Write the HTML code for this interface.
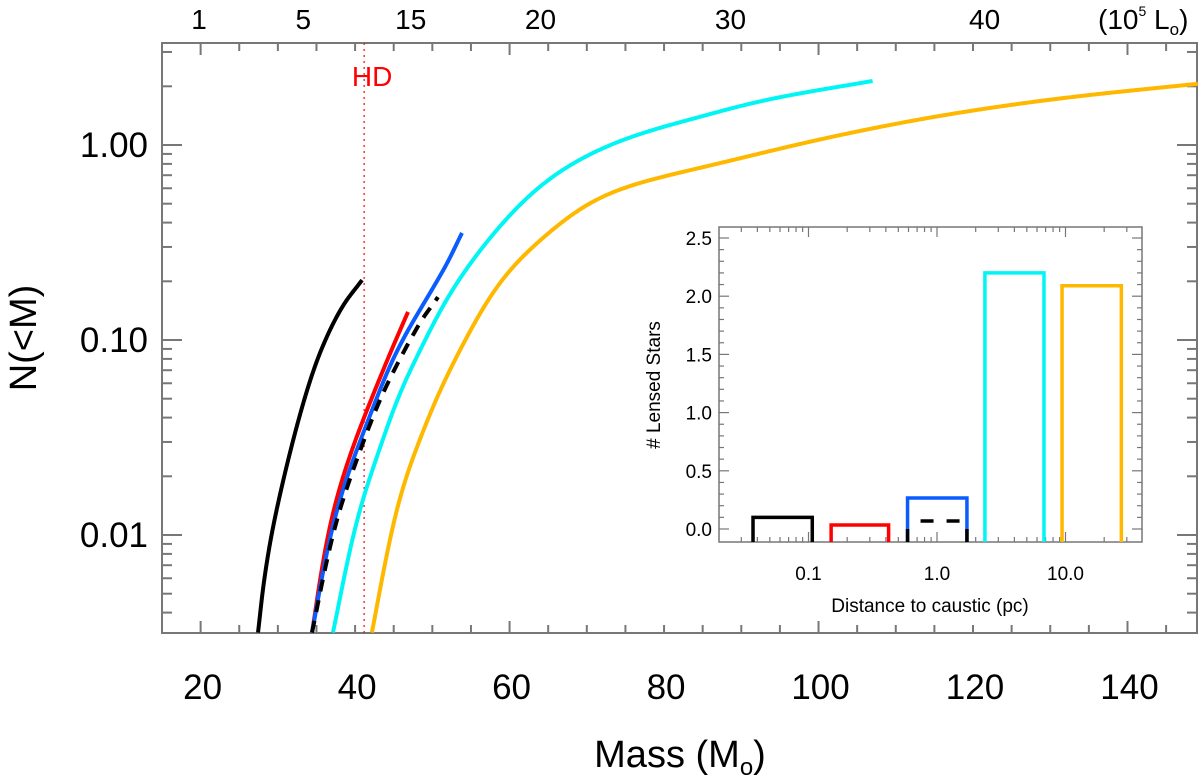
<!DOCTYPE html>
<html><head><meta charset="utf-8"><style>
body{margin:0;background:#fff}
svg{display:block;font-family:"Liberation Sans",Arial,sans-serif}
</style></head><body>
<svg id="chart" width="1200" height="783" viewBox="0 0 1200 783" xmlns="http://www.w3.org/2000/svg">
<g id="main"></g>
<g id="inset"></g>
</svg>
<script>
// ---- main chart data ----
const blackMass=[27.43,28.60,29.89,31.96,34.55,37.14,40.9];
const blackN=[0.00316,0.00771,0.0139,0.0307,0.0702,0.1267,0.203];
const redMass=[34.42,36.75,39.98,41.02,43.61,46.85];
const redN=[0.00316,0.01153,0.0307,0.0389,0.0702,0.1393];
const blueMass=[34.42,37.14,40.64,41.93,44.13,47.11,50.6,53.84];
const blueN=[0.00316,0.01153,0.0307,0.0403,0.0702,0.1194,0.196,0.354];
const dashMass=[34.42,37.66,41.03,43.61,45.81,46.72,50.73];
const dashN=[0.00316,0.0124,0.0296,0.0554,0.0789,0.0966,0.166];
const cyanMass=[37.13,40.63,43.61,45.81,48.02,51.64,54.49,57.47,61.74,64.6,70.41,76.89,84.65,91.64,107.0];
const cyanN=[0.00316,0.0139,0.0307,0.0554,0.0818,0.160,0.237,0.337,0.522,0.66,0.910,1.152,1.39,1.66,2.13];
const orangeMass=[42.17,45.42,47.11,48.4,50.34,53.58,56.56,60.06,65.24,70.41,76.89,84.65,101.6,116.5,131.5,149.1];
const orangeN=[0.00316,0.0139,0.0234,0.0307,0.0492,0.0889,0.1477,0.237,0.358,0.522,0.646,0.762,1.10,1.43,1.74,2.06];
const hdMass=41.17;
const xTickLabels=[20,40,60,80,100,120,140];
const yTickLabels=["0.01","0.10","1.00"];
const yTickVals=[0.01,0.1,1];
const topLabels=["1","5","15","20","30","40"];
const topLabelMass=[19.8,33.3,47.2,64.0,88.6,121.5];
// ---- inset data ----
const binLo=[0.037,0.15,0.59,2.36,9.4];
const binHi=[0.107,0.42,1.71,6.8,27.2];
const binVal=[0.10,0.034,0.266,2.2,2.09];
const binColors=["#000","#f00","#0a5cff","#00f5f5","#ffb800"];
const dashVal=0.069;
const insetYTicks=["0.0","0.5","1.0","1.5","2.0","2.5"];
const insetXTicks=["0.1","1.0","10.0"];

const NS="http://www.w3.org/2000/svg";
function mk(parent,tag,attrs,text){const e=document.createElementNS(NS,tag);for(const k in attrs)e.setAttribute(k,attrs[k]);if(text!==undefined)e.textContent=text;parent.appendChild(e);return e;}
const main=document.getElementById('main'), inset=document.getElementById('inset');
const L=162,R=1197,T=43,B=633;
const xM=m=>L+(m-15)*(R-L)/134;
const yN=n=>145-195*Math.log10(n);
let f=mk(main,'rect',{x:L,y:T,width:R-L,height:B-T,fill:'none',stroke:'#777','stroke-width':2});


for(let m=20;m<=145;m+=5){const x=xM(m);const len=((m-20)%40===0)?12:8;
 mk(main,'line',{x1:x,y1:B,x2:x,y2:B-len,stroke:'#777','stroke-width':2});
 mk(main,'line',{x1:x,y1:T,x2:x,y2:T+len,stroke:'#777','stroke-width':2});}
xTickLabels.forEach(v=>{const t=mk(main,'text',{x:xM(v)+2,y:699,'font-size':35,'text-anchor':'middle'},String(v));
 
 });
for(let d=-3;d<=0;d++){for(let k=1;k<=9;k++){const v=k*Math.pow(10,d);if(v<0.00316||v>3.3)continue;const y=yN(v);const len=k===1?20:10;
 mk(main,'line',{x1:L,y1:y,x2:L+len,y2:y,stroke:'#777','stroke-width':2});
 mk(main,'line',{x1:R,y1:y,x2:R-len,y2:y,stroke:'#777','stroke-width':2});}}
yTickVals.forEach((v,i)=>{const t=mk(main,'text',{x:148,y:yN(v)+12,'font-size':35,'text-anchor':'end'},yTickLabels[i]);
 
 });
topLabels.forEach((s,i)=>{const t=mk(main,'text',{x:xM(topLabelMass[i]),y:29,'font-size':28,'text-anchor':'middle'},s);
 
 });
let tu=mk(main,'text',{x:1098,y:29,'font-size':28});
tu.innerHTML='(10<tspan font-size="14" dy="-13">5</tspan><tspan dy="13"> L</tspan><tspan font-size="17" dy="6">o</tspan><tspan dy="-6">)</tspan>';


let xt=mk(main,'text',{x:680,y:767,'font-size':38,'text-anchor':'middle'});
xt.innerHTML='Mass (M<tspan font-size="24" dy="8">o</tspan><tspan dy="-8">)</tspan>';


let yt=mk(main,'text',{x:0,y:0,'font-size':38,'text-anchor':'middle',transform:'translate(36,338) rotate(-90)'},'N(<M)');


let hd=mk(main,'line',{x1:xM(hdMass),y1:T,x2:xM(hdMass),y2:B,stroke:'#f00','stroke-width':1.2,'stroke-dasharray':'2,4'});


let hdt=mk(main,'text',{x:xM(hdMass)+8,y:86,'font-size':28,fill:'#f00','text-anchor':'middle'},'HD');


function monotone(xs,ys){const n=xs.length,d=[],m=new Array(n);
 for(let i=0;i<n-1;i++)d.push((ys[i+1]-ys[i])/(xs[i+1]-xs[i]));
 m[0]=d[0];m[n-1]=d[n-2];
 for(let i=1;i<n-1;i++){if(d[i-1]*d[i]<=0)m[i]=0;else{const w1=2*(xs[i+1]-xs[i])+(xs[i]-xs[i-1]),w2=(xs[i+1]-xs[i])+2*(xs[i]-xs[i-1]);m[i]=(w1+w2)/(w1/d[i-1]+w2/d[i]);}}
 return t=>{let i=0;while(i<n-2&&t>xs[i+1])i++;const h=xs[i+1]-xs[i],s=(t-xs[i])/h;
  const h00=2*s*s*s-3*s*s+1,h10=s*s*s-2*s*s+s,h01=-2*s*s*s+3*s*s,h11=s*s*s-s*s;
  return h00*ys[i]+h10*h*m[i]+h01*ys[i+1]+h11*h*m[i+1];};}
function curve(ms,ns,color,name,dash){
 const lg=ns.map(v=>Math.log10(v));
 const fn=monotone(lg,ms);
 const raw=[];const S=600;
 for(let k=0;k<=S;k++){const t=lg[0]+(lg[lg.length-1]-lg[0])*k/S;raw.push([xM(fn(t)),145-195*t]);}
 const cum=[0];for(let i=1;i<raw.length;i++)cum.push(cum[i-1]+Math.hypot(raw[i][0]-raw[i-1][0],raw[i][1]-raw[i-1][1]));
 const total=cum[cum.length-1];const pts=[];let j=0;
 for(let s=0;s<=total;s+=1){while(j<cum.length-2&&cum[j+1]<s)j++;const u=(s-cum[j])/((cum[j+1]-cum[j])||1);
  pts.push([raw[j][0]+(raw[j+1][0]-raw[j][0])*u,raw[j][1]+(raw[j+1][1]-raw[j][1])*u]);}
 pts.push(raw[raw.length-1]);
 const sig=30,n=pts.length,sm=[];
 for(let i=0;i<n;i++){const w=Math.min(Math.round(sig*2.5),i,n-1-i);let sx=0,sy=0,sw=0;
  for(let k=-w;k<=w;k++){const g=Math.exp(-k*k/(2*sig*sig));sx+=g*pts[i+k][0];sy+=g*pts[i+k][1];sw+=g;}
  sm.push([sx/sw,sy/sw]);}
 let d='';sm.forEach((p,i)=>{if(i%2===0||i===n-1)d+=(i?' L':'M')+p[0].toFixed(2)+','+p[1].toFixed(2);});
 const a={d:d,fill:'none',stroke:color,'stroke-width':4,'stroke-linejoin':'round'};if(dash)a['stroke-dasharray']=dash;
 const p=mk(main,'path',a);
 
 }
curve(orangeMass,orangeN,'#ffb800','orange-curve');
curve(cyanMass,cyanN,'#00f5f5','cyan-curve');
curve(redMass,redN,'#f00','red-curve');
curve(blueMass,blueN,'#0a5cff','blue-curve');
curve(dashMass,dashN,'#000','dashed-black-curve','12,9');
curve(blackMass,blackN,'#000','black-curve');

// ---- inset ----
const iL=719,iR=1142,iT=227,iB=542;
const xD=v=>937+128.5*Math.log10(v);
const yV=v=>529-116.4*v;
let bg=mk(inset,'rect',{x:iL,y:iT,width:iR-iL,height:iB-iT,fill:'#fff',stroke:'#777','stroke-width':1.5});


for(let k=0;k<=25;k++){const y=yV(k/10);if(y<iT)continue;const len=k%5===0?10:5;
 mk(inset,'line',{x1:iL,y1:y,x2:iL+len,y2:y,stroke:'#777','stroke-width':1.2});
 mk(inset,'line',{x1:iR,y1:y,x2:iR-len,y2:y,stroke:'#777','stroke-width':1.2});}
insetYTicks.forEach((s,i)=>{const t=mk(inset,'text',{x:712,y:yV(i*0.5)+7,'font-size':19,'text-anchor':'end'},s);
 
 });
for(let d=-2;d<=1;d++){for(let k=1;k<=9;k++){const v=k*Math.pow(10,d);const x=xD(v);if(x<iL||x>iR)continue;const len=k===1?10:5;
 mk(inset,'line',{x1:x,y1:iB,x2:x,y2:iB-len,stroke:'#777','stroke-width':1.2});
 mk(inset,'line',{x1:x,y1:iT,x2:x,y2:iT+len,stroke:'#777','stroke-width':1.2});}}
insetXTicks.forEach((s,i)=>{const t=mk(inset,'text',{x:xD(Math.pow(10,i-1)),y:580,'font-size':19,'text-anchor':'middle'},s);
 
 });
let ixt=mk(inset,'text',{x:930,y:612,'font-size':19,'text-anchor':'middle'},'Distance to caustic (pc)');


let iyt=mk(inset,'text',{x:0,y:0,'font-size':19,'text-anchor':'middle',transform:'translate(660,385) rotate(-90)'},'# Lensed Stars');


binVal.forEach((v,i)=>{const x1=xD(binLo[i]),x2=xD(binHi[i]),y=yV(v);
 const p=mk(inset,'path',{d:`M${x1},${iB} V${y} H${x2} V${iB}`,fill:'none',stroke:binColors[i],'stroke-width':3.5});
 
 });
{const x1=xD(binLo[2]),x2=xD(binHi[2]),y=yV(dashVal);
 const p=mk(inset,'path',{d:`M${x1},${iB} V${yV(0)} M${x2},${iB} V${yV(0)} M${x1+13},${y} H${x2-6}`,fill:'none',stroke:'#000','stroke-width':3.5,'stroke-dasharray':'13,13'});
 
 }
</script>
</body></html>
